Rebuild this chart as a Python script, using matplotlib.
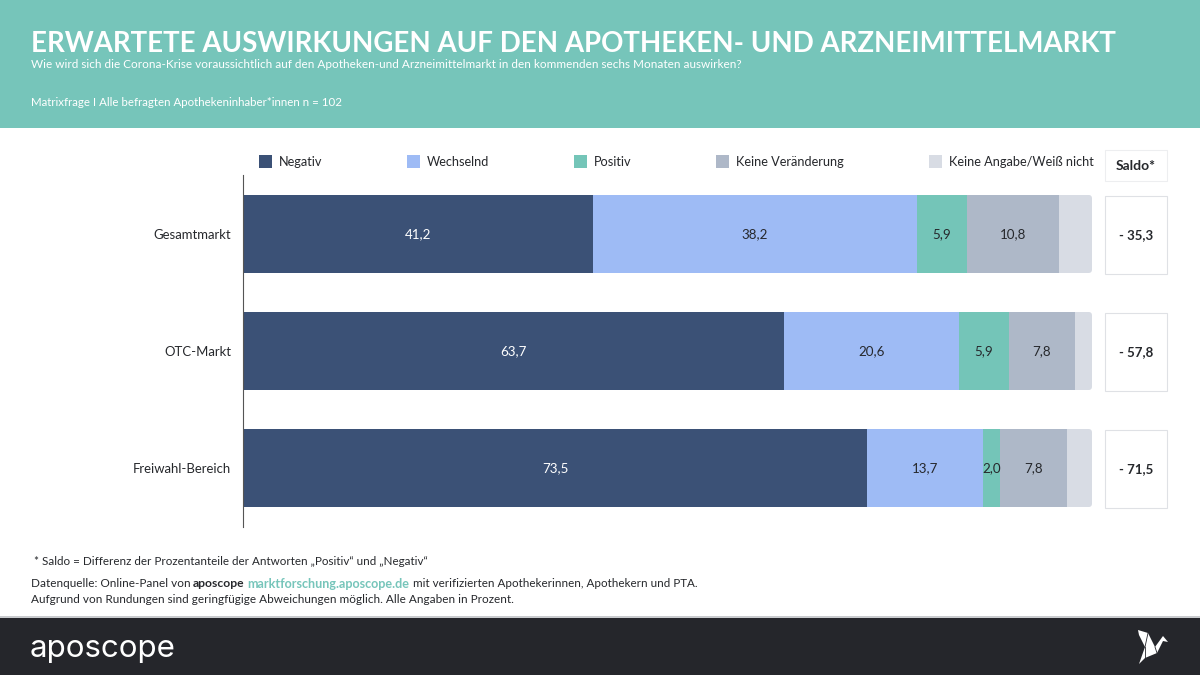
import matplotlib
matplotlib.use("Agg")
import matplotlib.pyplot as plt
from matplotlib.patches import Rectangle, Polygon, FancyBboxPatch
from matplotlib.transforms import IdentityTransform

categories = ["Gesamtmarkt", "OTC-Markt", "Freiwahl-Bereich"]
series_names = ["Negativ", "Wechselnd", "Positiv", "Keine Veränderung", "Keine Angabe/Weiß nicht"]
negativ = [41.2, 63.7, 73.5]
wechselnd = [38.2, 20.6, 13.7]
positiv = [5.9, 5.9, 2.0]
keine_veraenderung = [10.8, 7.8, 7.8]
keine_angabe = [3.9, 2.0, 3.0]
saldo = ["- 35,3", "- 57,8", "- 71,5"]
colors = ["#3B5176", "#9EBBF5", "#74C5B8", "#AEB8C8", "#D8DCE4"]
legend_x = [259, 407, 574, 716, 929]

FONT = "Lato"
plt.rcParams["font.family"] = [FONT, "DejaVu Sans"]
TXT = "#26282C"
W, H = 1200, 675
fig = plt.figure(figsize=(W / 100, H / 100), dpi=100, facecolor="white")


def fx(x):
    return x / W


def fy(y):
    return 1 - y / H


def T(x, y, s, **kw):
    kw.setdefault("va", "center")
    kw.setdefault("color", TXT)
    return fig.text(fx(x), fy(y), s, **kw)


def R(x0, y0, x1, y1, **kw):
    fig.add_artist(Rectangle((fx(x0), fy(y1)), (x1 - x0) / W, (y1 - y0) / H,
                             transform=fig.transFigure, **kw))


# Header and footer bands
R(0, 0, W, 127.5, facecolor="#76C5BA", edgecolor="none")
R(0, 617, W, H, facecolor="#25262B", edgecolor="none")
R(0, 616, W, 618, facecolor="#C9CBCE", edgecolor="none")

T(31, 43.5, "ERWARTETE AUSWIRKUNGEN AUF DEN APOTHEKEN- UND ARZNEIMITTELMARKT",
  color="white", fontsize=19.9, fontweight="bold")
T(31, 64, "Wie wird sich die Corona-Krise voraussichtlich auf den Apotheken-und "
  "Arzneimittelmarkt in den kommenden sechs Monaten auswirken?", color="white", fontsize=8.45)
T(31, 102, "Matrixfrage I Alle befragten Apothekeninhaber*innen n = 102", color="white", fontsize=8.3)

# Stacked bars
ax = fig.add_axes([fx(243), fy(527), (1092 - 243) / W, (527 - 175) / H])
ax.set_xlim(0, 100)
ax.set_ylim(2.504, -0.504)
ax.patch.set_alpha(0)
rows = [negativ, wechselnd, positiv, keine_veraenderung, keine_angabe]
ypos = list(range(len(categories)))
left = [0.0] * len(categories)
for i, (vals, col) in enumerate(zip(rows, colors)):
    bars = ax.barh(ypos, vals, left=left, height=0.667, color=col, linewidth=0)
    if i < 4:
        labels = [f"{v:.1f}".replace(".", ",") for v in vals]
        ax.bar_label(bars, labels=labels, label_type="center", fontsize=9.6,
                     color="white" if i == 0 else TXT)
    else:
        # the last segment of each bar has softly rounded outer corners
        for b in bars:
            (x0, y0), (x1, y1) = ax.transData.transform(
                [(b.get_x(), b.get_y()), (b.get_x() + b.get_width(), b.get_y() + b.get_height())])
            ya, yb = sorted((y0, y1))
            clip = FancyBboxPatch((x0 - 12, ya), x1 - x0 + 12, yb - ya,
                                  boxstyle="round,pad=0,rounding_size=3.5",
                                  transform=IdentityTransform())
            b.set_clip_path(clip)
    left = [a + b for a, b in zip(left, vals)]
ax.set_yticks(ypos, categories, fontsize=9.45, color=TXT)
ax.set_xticks([])
ax.tick_params(axis="y", length=0, pad=8.4)
for s in ["top", "right", "bottom"]:
    ax.spines[s].set_visible(False)
ax.spines["left"].set_color("#555555")
ax.spines["left"].set_linewidth(0.8)

# Legend
for name, col, x in zip(series_names, colors, legend_x):
    R(x, 155, x + 13, 168, facecolor=col, edgecolor="none")
    T(x + 20, 162, name, fontsize=9.15)

# Saldo boxes
R(1105, 149.5, 1167, 180.5, facecolor="white", edgecolor="#EDEEF0", linewidth=0.8)
T(1136, 166, "Saldo*", ha="center", fontsize=10, fontweight="bold")
for s, y in zip(saldo, [234, 351, 468]):
    R(1105, y - 38.5, 1167, y + 39.5, facecolor="white", edgecolor="#DFE1E5", linewidth=0.8)
    T(1136, y + 1, s, ha="center", fontsize=9.5, fontweight="bold")

# Notes
T(34, 561.5, "* Saldo = Differenz der Prozentanteile der Antworten „Positiv“ und „Negativ“", fontsize=8.4)
renderer = fig.canvas.get_renderer()
x = 31.0
for s, gap, kw in [("Datenquelle: Online-Panel von", 2.5, {"fontsize": 8.5}),
                   ("aposcope", 3.0, {"fontweight": "bold", "fontsize": 8.7}),
                   ("marktforschung.aposcope.de", 3.0, {"fontweight": "bold", "color": "#76C5BA", "fontsize": 9.1}),
                   ("mit verifizierten Apothekerinnen, Apothekern und PTA.", 0.0, {"fontsize": 8.35})]:
    t = T(x, 583.5, s, **kw)
    x = t.get_window_extent(renderer).x1 + gap
T(31, 599.5, "Aufgrund von Rundungen sind geringfügige Abweichungen möglich. Alle Angaben in Prozent.", fontsize=8.45)

# Footer logo
T(30, 649, "aposcope", color="white", fontsize=22.5, family=["Inter", "DejaVu Sans"])
bird = [(1138, 630), (1148, 633), (1155, 647), (1163, 636), (1168, 642), (1163, 641),
        (1157, 653), (1145, 658), (1139, 664), (1145, 647), (1139, 635)]
fig.add_artist(Polygon([(fx(a), fy(b)) for a, b in bird], closed=True,
                       transform=fig.transFigure, facecolor="white", edgecolor="none"))
for (a0, b0), (a1, b1) in [((1148, 633), (1145, 647)), ((1145, 647), (1145, 658)), ((1155, 647), (1157, 653))]:
    fig.add_artist(plt.Line2D([fx(a0), fx(a1)], [fy(b0), fy(b1)], transform=fig.transFigure,
                              color="#25262B", linewidth=0.6))

fig.savefig("out.png", dpi=100)
